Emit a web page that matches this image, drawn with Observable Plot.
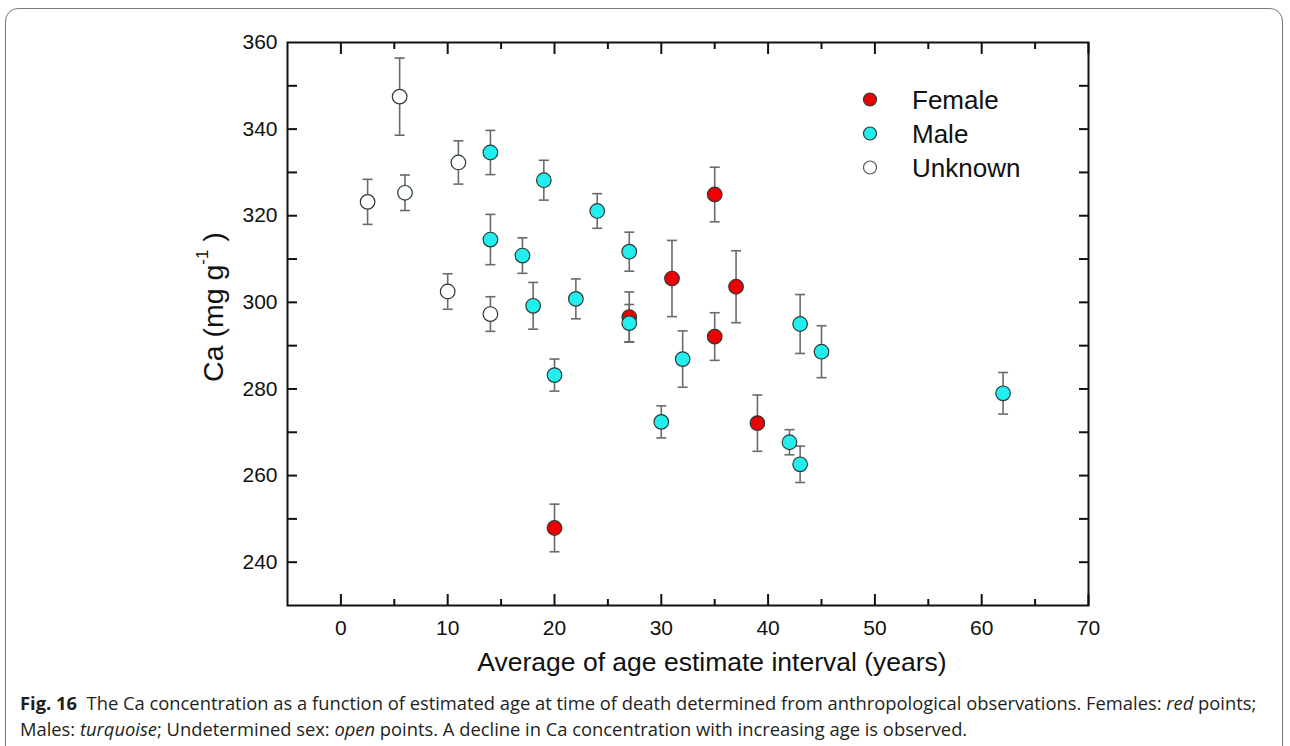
<!DOCTYPE html>
<html><head><meta charset="utf-8">
<script src="https://cdn.jsdelivr.net/npm/d3@7"></script>
<script src="https://cdn.jsdelivr.net/npm/@observablehq/plot@0.6"></script>
<style>
body{margin:0;background:#fff;width:1290px;height:746px;overflow:hidden;position:relative;font-family:"Liberation Sans",Arial,sans-serif;}
#border{position:absolute;left:5px;top:8px;width:1278px;height:760px;border:1.5px solid #777;border-radius:13px;box-sizing:border-box;}
#chart{position:absolute;left:0;top:0;}
#caption{position:absolute;left:20px;top:690px;font-family:"Open Sans",sans-serif;color:#231f20;line-height:26px;white-space:nowrap;font-size:16px;}
</style></head><body>
<div id="border"></div>
<div id="chart"></div>
<div id="caption"><div id="l1"><b>Fig. 16</b>&nbsp; The Ca concentration as a function of estimated age at time of death determined from anthropological observations. Females: <i>red</i> points;</div><div id="l2">Males: <i>turquoise</i>; Undetermined sex: <i>open</i> points. A decline in Ca concentration with increasing age is observed.</div></div>
<script>
// ---- data ----
const groups = ["Female", "Male", "Unknown"];
const groupColors = ["#ee0000", "#22eeee", "#ffffff"];

const femaleAge = [20, 27, 31, 35, 35, 37, 39];
const femaleCa  = [247.9, 296.6, 305.5, 324.9, 292.1, 303.6, 272.1];
const femaleErr = [5.5, 5.8, 8.8, 6.3, 5.5, 8.3, 6.5];

const maleAge = [14, 14, 17, 18, 19, 20, 22, 24, 27, 27, 30, 32, 42, 43, 43, 45, 62];
const maleCa  = [334.6, 314.5, 310.8, 299.2, 328.2, 283.2, 300.8, 321.1, 311.7, 295.2, 272.4, 286.9, 267.7, 295.0, 262.6, 288.6, 279.0];
const maleErr = [5.1, 5.8, 4.1, 5.4, 4.6, 3.7, 4.6, 4.0, 4.5, 4.3, 3.7, 6.5, 2.9, 6.8, 4.2, 6.0, 4.8];

const unknownAge = [2.5, 5.5, 6, 10, 11, 14];
const unknownCa  = [323.2, 347.5, 325.3, 302.5, 332.3, 297.3];
const unknownErr = [5.2, 8.9, 4.1, 4.1, 5.0, 4.0];

const xTicks = [0, 10, 20, 30, 40, 50, 60, 70];
const xMinorTicks = [5, 15, 25, 35, 45, 55, 65];
const yTicks = [240, 260, 280, 300, 320, 340, 360];
const yAllTicks = [240, 250, 260, 270, 280, 290, 300, 310, 320, 330, 340, 350];
const xTitle = "Average of age estimate interval (years)";

// ---- table ----
const rows = [];
function add(g, xs, ys, es) { xs.forEach((x, i) => rows.push({group: g, age: x, ca: ys[i], err: es[i]})); }
add("Unknown", unknownAge, unknownCa, unknownErr);
add("Female", femaleAge, femaleCa, femaleErr);
add("Male", maleAge, maleCa, maleErr);

const cap = {draw(ctx, size) { const r = Math.sqrt(size / Math.PI); ctx.moveTo(-r, 0); ctx.lineTo(r, 0); }};
const errColor = "#6a6a6a";
const ink = "#111";

const plot = Plot.plot({
  width: 1290, height: 680,
  marginLeft: 287, marginRight: 202, marginTop: 42, marginBottom: 75,
  x: {domain: [-5, 70]},
  y: {domain: [230, 360]},
  color: {domain: groups, range: groupColors},
  style: {fontFamily: "'Liberation Sans', Arial, sans-serif", fontSize: "21px", color: ink, background: "transparent"},
  marks: [
    Plot.ruleX(rows, {x: "age", y1: d => d.ca - d.err, y2: d => d.ca + d.err, stroke: errColor, strokeWidth: 1.6}),
    Plot.dot(rows, {x: "age", y: d => d.ca + d.err, symbol: cap, r: 5, stroke: errColor, strokeWidth: 1.6, fill: "none"}),
    Plot.dot(rows, {x: "age", y: d => d.ca - d.err, symbol: cap, r: 5, stroke: errColor, strokeWidth: 1.6, fill: "none"}),
    Plot.dot(rows, {x: "age", y: "ca", r: 7.3, fill: "group", stroke: "#2b3b3b", strokeWidth: 1.2}),
    Plot.frame({stroke: ink, strokeWidth: 2}),
    // inward tick marks on all four sides
    Plot.axisX(xTicks, {anchor: "bottom", tickSize: 11, dy: -11, strokeWidth: 2, fill: "none", label: null}),
    Plot.axisX(xMinorTicks, {anchor: "bottom", tickSize: 6, dy: -6, strokeWidth: 2, fill: "none", label: null}),
    Plot.axisX(xTicks, {anchor: "top", tickSize: 11, dy: 11, strokeWidth: 2, fill: "none", label: null}),
    Plot.axisX(xMinorTicks, {anchor: "top", tickSize: 6, dy: 6, strokeWidth: 2, fill: "none", label: null}),
    Plot.axisY(yAllTicks, {anchor: "left", tickSize: 10, dx: 10, strokeWidth: 2, fill: "none", label: null}),
    Plot.axisY(yAllTicks, {anchor: "right", tickSize: 10, dx: -10, strokeWidth: 2, fill: "none", label: null}),
    // tick labels
    Plot.axisX(xTicks, {anchor: "bottom", tickSize: 0, tickPadding: 15, label: null, tickFormat: d => String(d)}),
    Plot.axisY(yTicks, {anchor: "left", tickSize: 0, tickPadding: 10, label: null, tickFormat: d => String(d)}),
    Plot.text([xTitle], {text: d => d, frameAnchor: "bottom", dx: 24, dy: 57, fontSize: 26.5, lineAnchor: "middle", fill: ink})
  ]
});
document.getElementById("chart").appendChild(plot);

const svg = d3.select(plot);
// y-axis title with superscript
const yt = svg.append("text")
  .attr("transform", "translate(213,307) rotate(-90)")
  .attr("text-anchor", "middle")
  .attr("dominant-baseline", "central")
  .attr("font-size", 28.5)
  .attr("fill", ink);
yt.append("tspan").text("Ca (mg g");
yt.append("tspan").attr("font-size", 17).attr("dy", -11).text("-1");
yt.append("tspan").attr("dy", 11).text(" )");

// legend
const legendFill = {Female: groupColors[0], Male: groupColors[1], Unknown: groupColors[2]};
const lg = svg.append("g").attr("text-anchor", "start");
groups.forEach((g, i) => {
  const cy = 99.5 + i * 34;
  lg.append("circle").attr("cx", 870).attr("cy", cy).attr("r", 6.5)
    .attr("fill", legendFill[g]).attr("stroke", g === "Unknown" ? "#555" : "#2b3b3b").attr("stroke-width", 1.2);
  lg.append("text").attr("x", 912).attr("y", cy).attr("text-anchor", "start").attr("dominant-baseline", "central")
    .attr("font-size", 26).attr("fill", ink).text(g);
});

// caption fit
const l1 = document.getElementById("l1");
const w = l1.getBoundingClientRect().width;
document.getElementById("caption").style.fontSize = (16 * 1237 / w) + "px";
</script>
</body></html>
